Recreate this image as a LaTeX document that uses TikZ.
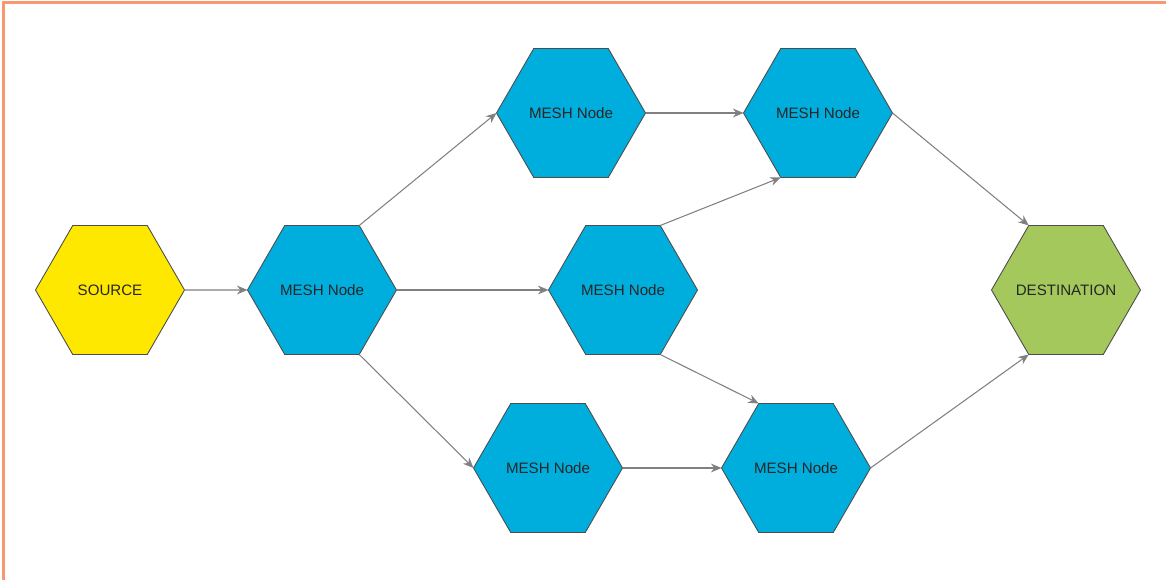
\documentclass[tikz,border=0pt]{standalone}
\usepackage{fontspec}
\setmainfont{Liberation Sans}
\usetikzlibrary{shapes.geometric, arrows.meta}

\definecolor{srcyellow}{RGB}{255,232,0}
\definecolor{meshblue}{RGB}{0,174,222}
\definecolor{dstgreen}{RGB}{164,200,92}
\definecolor{framerange}{RGB}{248,152,112}

\begin{document}
\begin{tikzpicture}[>={Stealth[length=6pt,width=5pt]},
  hexa/.style={regular polygon, regular polygon sides=6, draw=black!70,
               line width=0.5pt, minimum size=2.98cm, inner sep=0pt,
               outer sep=0pt, font=\fontsize{8.6}{10}\selectfont,
               text=black!85},
  link/.style={->, draw=black!50, line width=0.6pt}]

  \useasboundingbox (0,0) rectangle (23.32,11.6);

  % Marco
  \draw[framerange, line width=1.6pt] (0.07,0) -- (0.07,11.55) -- (23.32,11.55);

  % Origen y destino
  \node[hexa, fill=srcyellow] (source) at (2.20, 5.80) {SOURCE};
  \node[hexa, fill=dstgreen]  (dest)   at (21.32, 5.80) {\makebox[0pt]{DESTINATION}};

  % Nodos de la malla
  \node[hexa, fill=meshblue] (mesh1) at (6.44, 5.80)  {MESH Node};
  \node[hexa, fill=meshblue] (mesh2) at (11.42, 9.34) {MESH Node};
  \node[hexa, fill=meshblue] (mesh3) at (16.36, 9.34) {MESH Node};
  \node[hexa, fill=meshblue] (mesh4) at (12.46, 5.80) {MESH Node};
  \node[hexa, fill=meshblue] (mesh5) at (10.96, 2.24) {MESH Node};
  \node[hexa, fill=meshblue] (mesh6) at (15.92, 2.24) {MESH Node};

  % Flechas
  \draw[link] (source.0)  -- (mesh1.180);
  \draw[link] (mesh1.60)  -- (mesh2.180);
  \draw[link] (mesh1.0)   -- (mesh4.180);
  \draw[link] (mesh1.-60) -- (mesh5.180);
  \draw[link] (mesh2.0)   -- (mesh3.180);
  \draw[link] (mesh4.60)  -- (mesh3.-120);
  \draw[link] (mesh4.-60) -- (mesh6.120);
  \draw[link] (mesh5.0)   -- (mesh6.180);
  \draw[link] (mesh3.0)   -- (dest.120);
  \draw[link] (mesh6.0)   -- (dest.-120);
\end{tikzpicture}
\end{document}
